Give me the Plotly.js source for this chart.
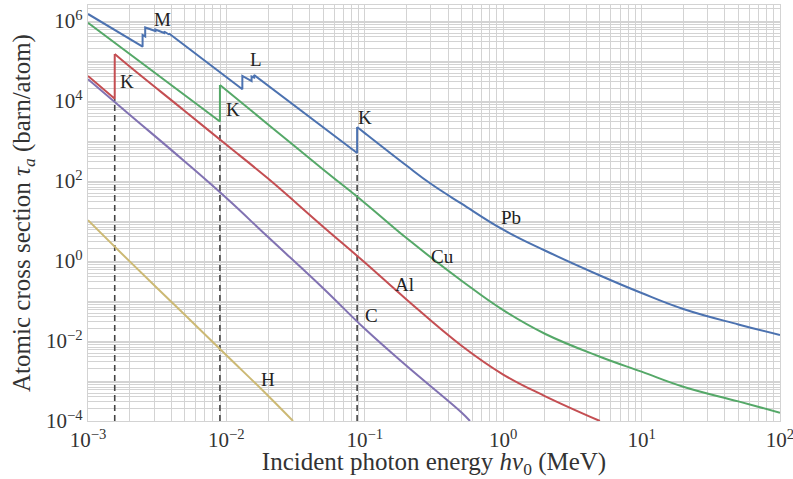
<!DOCTYPE html>
<html>
<head>
<meta charset="utf-8">
<script src="https://cdn.plot.ly/plotly-3.0.1.min.js"></script>
<style>html,body{margin:0;padding:0;background:#fff;}#chart{width:793px;height:479px;}</style>
</head>
<body>
<div id="chart"></div>
<script>
// ---- Data (energy in MeV, cross section in barn/atom) ----
const pbE = [1e-3, 2.48e-3, 2.48e-3, 2.59e-3, 2.59e-3, 3.07e-3, 3.07e-3, 3.55e-3, 3.55e-3, 3.85e-3, 3.85e-3,
             13.04e-3, 13.04e-3, 15.2e-3, 15.2e-3, 15.86e-3, 15.86e-3, 0.088, 0.088,
             0.1, 0.2, 0.3, 0.5, 1, 2, 5, 10, 20, 50, 100];
const pbT = [1.50e6, 2.28e5, 4.47e5, 4.10e5, 6.88e5, 5.62e5, 6.13e5, 5.01e5, 5.46e5, 4.60e5, 4.87e5,
             1.96e4, 4.22e4, 3.16e4, 4.10e4, 3.87e4, 4.47e4, 501, 2239,
             1576, 243, 85.1, 27.1, 6.06, 1.83, 0.434, 0.158, 0.0631, 0.0259, 0.0141];

const cuE = [1e-3, 8.98e-3, 8.98e-3, 0.01, 0.02, 0.05, 0.1, 0.2, 0.5, 1, 2, 5, 10, 20, 50, 100];
const cuT = [9.07e5, 3072, 2.51e4, 1.862e4, 2600, 194, 28.3, 3.74, 0.322, 0.0590, 0.0152,
             4.05e-3, 1.71e-3, 7.20e-4, 3.09e-4, 1.61e-4];

const alE = [1e-3, 1.56e-3, 1.56e-3, 2e-3, 5e-3, 0.01, 0.02, 0.05, 0.1, 0.2, 0.5, 1, 2, 5];
const alT = [4.22e4, 1.14e4, 1.50e5, 7.29e4, 5623, 804, 115, 7.20, 0.917, 0.109, 7.6e-3, 1.45e-3, 4.2e-4, 1.0e-4];

const cE = [1e-3, 2e-3, 5e-3, 0.01, 0.02, 0.05, 0.1, 0.2, 0.5, 0.575];
const cT = [3.49e4, 4545, 307, 37.4, 3.96, 0.208, 0.0202, 2.40e-3, 1.63e-4, 1.0e-4];

const hE = [1e-3, 2e-3, 5e-3, 0.01, 0.02, 0.0303];
const hT = [10.5, 0.977, 0.0452, 4.39e-3, 4.29e-4, 1.0e-4];

// K-edge energies and the cross section just below each edge (Al, Cu, Pb)
const edgeE = [1.56e-3, 8.98e-3, 0.088];
const edgeLow = [1.14e4, 3072, 501];

// Labels (text, energy, cross section)
const labelText = ['M', 'L', 'K', 'K', 'K', 'Pb', 'Cu', 'Al', 'C', 'H'];
const labelE = [3.43e-3, 1.64e-2, 1.91e-3, 1.12e-2, 0.1002, 1.14, 0.367, 0.192, 0.111, 0.020];
const labelT = [1.12e6, 1.06e5, 2.99e4, 5.96e3, 3.76e3, 11.9, 1.33, 0.266, 0.0422, 1.12e-3];

// Tick labels
const xTickVals = [1e-3, 1e-2, 1e-1, 1, 10, 100];
const xTickText = ['10<sup>−3</sup>', '10<sup>−2</sup>', '10<sup>−1</sup>', '10<sup>0</sup>', '10<sup>1</sup>', '10<sup>2</sup>'];
const yTickVals = [1e-4, 1e-2, 1, 100, 1e4, 1e6];
const yTickText = ['10<sup>−4</sup>', '10<sup>−2</sup>', '10<sup>0</sup>', '10<sup>2</sup>', '10<sup>4</sup>', '10<sup>6</sup>'];
const yOddDecades = [1e-3, 1e-1, 10, 1e3, 1e5];

// ---- Build chart ----
function minorVals(lo, hi) {
  const v = [];
  for (let p = lo; p <= hi; p++) for (let k = 2; k <= 9; k++) v.push(k * Math.pow(10, p));
  return v;
}
const FONT = 'Liberation Serif, Times New Roman, serif';
const colors = {Pb: '#4C72B0', Cu: '#55A868', Al: '#C44E52', C: '#8172B2', H: '#CCB974'};
const yMinLog = -4, yMaxLog = 6.4;

const traces = [];
edgeE.forEach((e, i) => {
  traces.push({x: [e, e], y: [Math.pow(10, yMinLog), edgeLow[i]], mode: 'lines', type: 'scatter',
    line: {color: '#444444', width: 1.6, dash: '6px,4px'}, hoverinfo: 'skip', showlegend: false});
});
// split index: the point where the smooth high-energy part begins (top of the last edge)
const series = [['H', hE, hT, 0], ['C', cE, cT, 0], ['Al', alE, alT, 2], ['Cu', cuE, cuT, 2], ['Pb', pbE, pbT, 18]];
series.forEach(([n, x, y, s]) => {
  if (s > 0) {
    traces.push({x: x.slice(0, s + 1), y: y.slice(0, s + 1), mode: 'lines', type: 'scatter',
      line: {color: colors[n], width: 2}, showlegend: false});
  }
  traces.push({x: x.slice(s), y: y.slice(s), name: n, mode: 'lines', type: 'scatter',
    line: {color: colors[n], width: 2, shape: 'spline', smoothing: 1.2}, showlegend: false});
});

const annotations = labelText.map((t, i) => ({
  x: Math.log10(labelE[i]), y: Math.log10(labelT[i]), xref: 'x', yref: 'y', text: t, showarrow: false,
  font: {family: FONT, size: 19, color: '#222'}
}));

const gridc = '#d3d3d3';
const layout = {
  width: 793, height: 479,
  margin: {l: 88, r: 13, t: 5, b: 58},
  paper_bgcolor: '#ffffff', plot_bgcolor: '#ffffff',
  showlegend: false,
  xaxis: {
    type: 'log', range: [-3, 2], tickmode: 'array', tickvals: xTickVals, ticktext: xTickText,
    ticklabeloverflow: 'allow',
    showgrid: true, gridcolor: gridc, gridwidth: 1, zeroline: false,
    showline: true, linecolor: gridc, linewidth: 1.2, mirror: true, ticks: '',
    minor: {tickmode: 'array', tickvals: minorVals(-3, 1), showgrid: true, gridcolor: gridc, gridwidth: 1, ticks: ''},
    tickfont: {family: FONT, size: 21, color: '#333'},
    title: {text: 'Incident photon energy <i>hν</i><sub>0</sub> (MeV)', font: {family: FONT, size: 25, color: '#333'}, standoff: 10}
  },
  yaxis: {
    type: 'log', range: [yMinLog, yMaxLog], tickmode: 'array', tickvals: yTickVals, ticktext: yTickText,
    showgrid: true, gridcolor: gridc, gridwidth: 1, zeroline: false,
    showline: true, linecolor: gridc, linewidth: 1.2, mirror: true, ticks: '',
    minor: {tickmode: 'array', tickvals: minorVals(-4, 6).concat(yOddDecades), showgrid: true, gridcolor: gridc, gridwidth: 1, ticks: ''},
    tickfont: {family: FONT, size: 21, color: '#333'},
    title: {text: 'Atomic cross section <i>τ<sub>a</sub></i> (barn/atom)', font: {family: FONT, size: 25, color: '#333'}, standoff: 8}
  },
  annotations: annotations
};
Plotly.newPlot('chart', traces, layout, {staticPlot: true, displayModeBar: false});
</script>
</body>
</html>
